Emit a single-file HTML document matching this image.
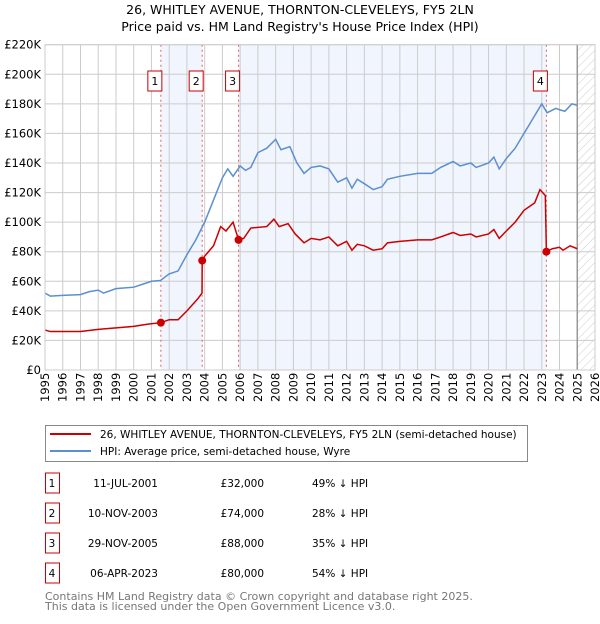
<!DOCTYPE html>
<html><head><meta charset="utf-8"><style>
body{margin:0;background:#fff;font-family:"DejaVu Sans","Liberation Sans",sans-serif;}
svg text{font-family:"DejaVu Sans","Liberation Sans",sans-serif;}
</style></head><body>
<svg id="chart" width="600" height="620" xmlns="http://www.w3.org/2000/svg">
<defs><pattern id="hatch" width="6" height="6" patternUnits="userSpaceOnUse" patternTransform="rotate(45)"><line x1="0" y1="0" x2="0" y2="6" stroke="#ccc" stroke-width="1"/></pattern></defs>
<text x="300" y="14" text-anchor="middle" font-size="12.5">26, WHITLEY AVENUE, THORNTON-CLEVELEYS, FY5 2LN</text>
<text x="300" y="31" text-anchor="middle" font-size="12.5">Price paid vs. HM Land Registry's House Price Index (HPI)</text>
<g id="plot"></g>
<rect x="45.5" y="425.5" width="482" height="36" fill="#fff" stroke="#888"/>
<line x1="50" y1="434" x2="91" y2="434" stroke="#cc0000" stroke-width="2"/>
<text x="100" y="438" font-size="10.5">26, WHITLEY AVENUE, THORNTON-CLEVELEYS, FY5 2LN (semi-detached house)</text>
<line x1="50" y1="451" x2="91" y2="451" stroke="#5b8fd0" stroke-width="2"/>
<text x="100" y="455" font-size="10.5">HPI: Average price, semi-detached house, Wyre</text>
<g id="table"></g>
<text x="45" y="600" font-size="11" fill="#777">Contains HM Land Registry data © Crown copyright and database right 2025.</text>
<text x="45" y="610" font-size="11" fill="#777">This data is licensed under the Open Government Licence v3.0.</text>
</svg>
<script>
const hpiYears=[1995,1995.3,1996,1997,1997.5,1998,1998.3,1999,2000,2000.5,2001,2001.5,2002,2002.5,2003,2003.5,2004,2004.5,2005,2005.3,2005.6,2006,2006.3,2006.6,2007,2007.5,2008,2008.3,2008.8,2009.2,2009.6,2010,2010.5,2011,2011.5,2012,2012.3,2012.6,2013,2013.5,2014,2014.3,2015,2016,2016.8,2017.3,2018,2018.4,2019,2019.3,2020,2020.3,2020.6,2021,2021.5,2022,2022.5,2023,2023.3,2023.8,2024,2024.3,2024.7,2025];
const hpiValues=[52,50,50.5,51,53,54,52,55,56,58,60,60.5,65,67,78,88,100,115,130,136,131,138,135,137,147,150,156,149,151,140,133,137,138,136,127,130,123,129,126,122,124,129,131,133,133,137,141,138,140,137,140,144,136,143,150,160,170,180,174,177,176,175,180,179];
const ppYears=[1995,1995.3,1997,1998,1999,2000,2000.8,2001.53,2002,2002.5,2003,2003.6,2003.85,2003.86,2004,2004.5,2004.9,2005.2,2005.6,2005.91,2006.2,2006.6,2007.5,2007.9,2008.2,2008.7,2009.1,2009.6,2010,2010.5,2011,2011.5,2012,2012.3,2012.6,2013,2013.5,2014,2014.3,2015,2016,2016.8,2017.3,2018,2018.4,2019,2019.3,2020,2020.3,2020.6,2021,2021.5,2022,2022.6,2022.9,2023.2,2023.26,2023.6,2024,2024.2,2024.6,2025];
const ppValues=[27,26,26,27.5,28.5,29.5,31,32,34,34,40,48,52,74,77,84,97,94,100,88,89,96,97,102,97,99,92,86,89,88,90,84,87,81,85,84,81,82,86,87,88,88,90,93,91,92,90,92,95,89,94,100,108,113,122,118,80,82,83,81,84,82];
const saleYears=[2001.53,2003.86,2005.91,2023.26];
const saleValues=[32,74,88,80];
const saleLabels=["1","2","3","4"];
const saleDates=["11-JUL-2001","10-NOV-2003","29-NOV-2005","06-APR-2023"];
const salePrices=["£32,000","£74,000","£88,000","£80,000"];
const saleHpi=["49% ↓ HPI","28% ↓ HPI","35% ↓ HPI","54% ↓ HPI"];
const yTicks=[0,20,40,60,80,100,120,140,160,180,200,220];
const yTickLabels=["£0","£20K","£40K","£60K","£80K","£100K","£120K","£140K","£160K","£180K","£200K","£220K"];
const xTicks=[1995,1996,1997,1998,1999,2000,2001,2002,2003,2004,2005,2006,2007,2008,2009,2010,2011,2012,2013,2014,2015,2016,2017,2018,2019,2020,2021,2022,2023,2024,2025,2026];

const L=45,R=595,T=44.7,B=370;
const x=v=>L+(v-1995)/(2026-1995)*(R-L);
const y=v=>B-v/220*(B-T);
const NS="http://www.w3.org/2000/svg";
const g=document.getElementById('plot');
function mk(tag,at,parent){const e=document.createElementNS(NS,tag);for(const k in at)e.setAttribute(k,at[k]);(parent||g).appendChild(e);return e;}

for(let i=0;i<saleYears.length;i++){
  const end=i+1<saleYears.length?saleYears[i+1]:null;
  if(i%2===0&&end){const r=mk('rect',{x:x(saleYears[i]),y:T,width:x(end)-x(saleYears[i]),height:B-T,fill:'#eef3fc',opacity:0.8});
  
  }
}
const h=mk('rect',{x:x(2025),y:T,width:R-x(2025),height:B-T,fill:'url(#hatch)'});


xTicks.forEach(t=>{const l=mk('line',{x1:x(t),x2:x(t),y1:T,y2:B,stroke:'#ccc','stroke-width':1});


const tx=mk('text',{x:0,y:0,transform:`translate(${x(t)+4},${B+32}) rotate(-90)`,'font-size':11.5});tx.textContent=t;

});
yTicks.forEach((t,i)=>{const l=mk('line',{x1:L,x2:R,y1:y(t),y2:y(t),stroke:'#ccc','stroke-width':1});


const tx=mk('text',{x:L-4,y:y(t)+4,'text-anchor':'end','font-size':11.5});tx.textContent=yTickLabels[i];

});
const ln25=mk('line',{x1:x(2025),x2:x(2025),y1:T,y2:B,stroke:'#999','stroke-width':1.5});


saleYears.forEach((s,i)=>{const l=mk('line',{x1:x(s),x2:x(s),y1:T,y2:B,stroke:'#e06060','stroke-dasharray':'2,3','stroke-width':1});


const bx=mk('rect',{x:x(s)-13,y:71,width:14,height:20,fill:'#fff',stroke:'#cc0000'});


const t=mk('text',{x:x(s)-6,y:85,'text-anchor':'middle','font-size':11});t.textContent=saleLabels[i];

});
const hp=mk('polyline',{points:hpiYears.map((v,i)=>x(v)+','+y(hpiValues[i])).join(' '),fill:'none',stroke:'#5b8fd0','stroke-width':1.5});


const pp=mk('polyline',{points:ppYears.map((v,i)=>x(v)+','+y(ppValues[i])).join(' '),fill:'none',stroke:'#cc0000','stroke-width':1.5});


saleYears.forEach((s,i)=>{const c=mk('circle',{cx:x(s),cy:y(saleValues[i]),r:4,fill:'#cc0000'});

});
const fr=mk('rect',{x:L,y:T,width:R-L,height:B-T,fill:'none',stroke:'#ccc'});


const tg=document.getElementById('table');
saleLabels.forEach((lab,i)=>{const cy=483+i*30;
const b=mk('rect',{x:45.5,y:cy-10,width:14,height:20,fill:'#fff',stroke:'#cc0000'},tg);


const vals=[[52,'middle',lab],[158,'end',saleDates[i]],[264,'end',salePrices[i]],[312,'start',saleHpi[i]]];
vals.forEach(v=>{const t=mk('text',{x:v[0],y:cy+4,'text-anchor':v[1],'font-size':10.5},tg);t.textContent=v[2];

});});
</script>
</body></html>
